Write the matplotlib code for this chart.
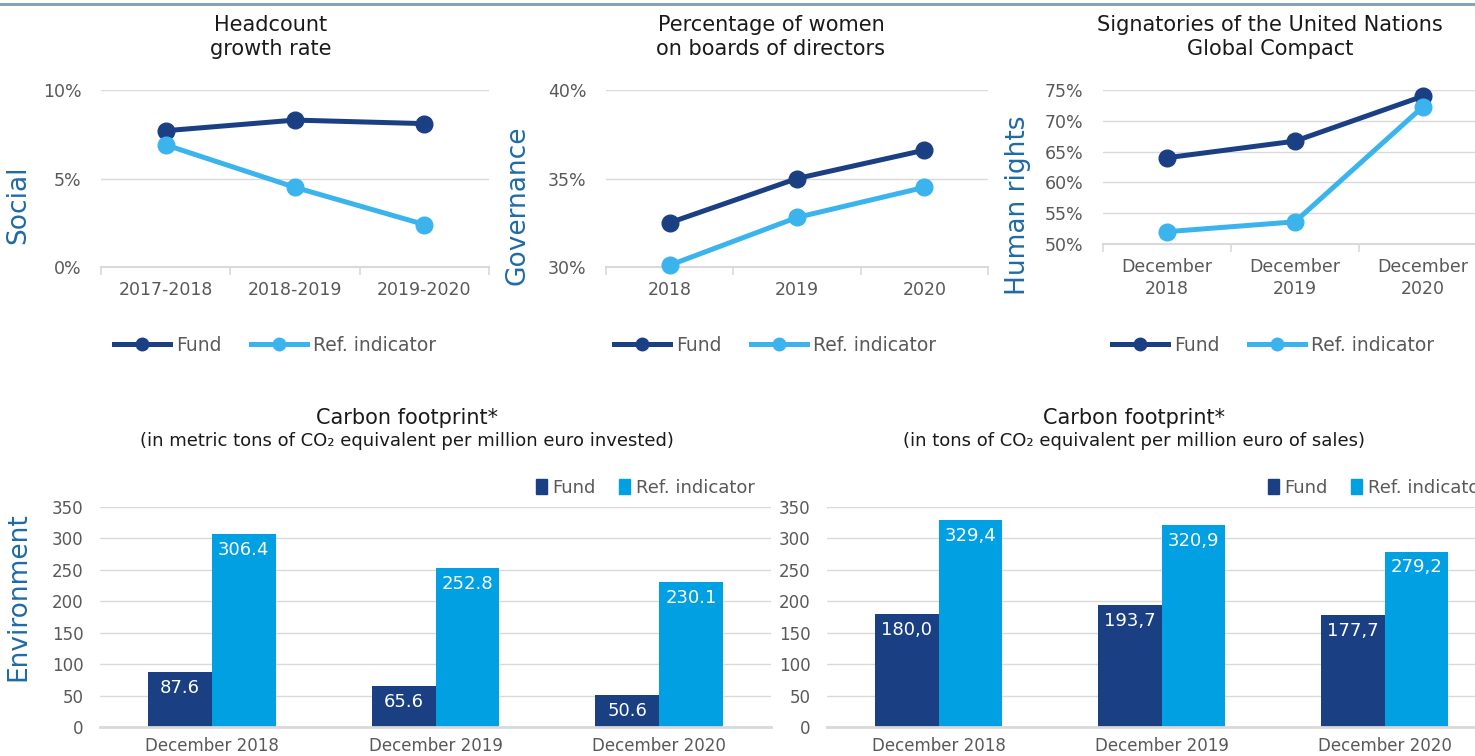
import matplotlib
matplotlib.use("Agg")
import matplotlib.pyplot as plt
from matplotlib.lines import Line2D
from matplotlib.patches import Patch

# data
headcount_cats = ['2017-2018', '2018-2019', '2019-2020']
headcount_fund = [7.7, 8.3, 8.1]
headcount_ref = [6.9, 4.5, 2.4]

women_cats = ['2018', '2019', '2020']
women_fund = [32.5, 35.0, 36.6]
women_ref = [30.1, 32.8, 34.5]

ungc_cats = ['December\n2018', 'December\n2019', 'December\n2020']
ungc_fund = [64.0, 66.7, 74.0]
ungc_ref = [52.0, 53.6, 72.3]

carbon_cats = ['December 2018', 'December 2019', 'December 2020']
carbon_inv_fund = [87.6, 65.6, 50.6]
carbon_inv_ref = [306.4, 252.8, 230.1]
carbon_sales_fund = [180.0, 193.7, 177.7]
carbon_sales_ref = [329.4, 320.9, 279.2]

W, H = 1475, 756
FUND = '#1b3f83'
REF_LINE = '#3bb4ee'
REF_BAR = '#00a0e2'
LABEL_BLUE = '#1f6aa6'
GRID = '#d9d9d9'
TICK = '#595959'

plt.rcParams['font.family'] = ['DejaVu Sans']

fig = plt.figure(figsize=(W / 100, H / 100), dpi=100)


def px_axes(x0, x1, ytop, ybot):
    return fig.add_axes([x0 / W, (H - ybot) / H, (x1 - x0) / W, (ybot - ytop) / H])


def fx(x):
    return x / W


def fy(y):
    return (H - y) / H


# top border line
fig.add_artist(Line2D([0, 1], [fy(4), fy(4)], color='#7f9bbf', lw=2))


def line_panel(x0, x1, ytop, ybot, cats, fund, ref, ylim, yticks, fmt,
               title, title_x, ylabel, ylabel_x, legend_x):
    ax = px_axes(x0, x1, ytop, ybot)
    xs = range(len(cats))
    ax.plot(xs, fund, color=FUND, lw=3.6, marker='o', ms=12, zorder=3, clip_on=False)
    ax.plot(xs, ref, color=REF_LINE, lw=3.6, marker='o', ms=12, zorder=3, clip_on=False)
    ax.set_xlim(-0.5, len(cats) - 0.5)
    ax.set_ylim(*ylim)
    ax.set_yticks(yticks)
    ax.set_yticklabels([fmt(v) for v in yticks])
    ax.set_xticks(list(xs))
    ax.set_xticklabels(cats, linespacing=1.3)
    ax.set_xticks([i - 0.5 for i in range(len(cats) + 1)], minor=True)
    ax.tick_params(axis='x', which='major', length=0, pad=10, labelsize=12.5, colors=TICK)
    ax.tick_params(axis='x', which='minor', length=6, color=GRID, width=1.2)
    ax.tick_params(axis='y', length=0, pad=14, labelsize=12.5, colors=TICK)
    for s in ['top', 'right', 'left']:
        ax.spines[s].set_visible(False)
    ax.spines['bottom'].set_color(GRID)
    ax.spines['bottom'].set_linewidth(1.5)
    ax.grid(axis='y', color=GRID, lw=1)
    ax.set_axisbelow(True)
    fig.text(fx(title_x), fy(37), title, ha='center', va='center',
             fontsize=15, linespacing=1.25, color='#1a1a1a')
    fig.text(fx(ylabel_x), fy(205), ylabel, ha='center', va='center',
             rotation=90, fontsize=19, color=LABEL_BLUE)
    handles = [Line2D([], [], color=FUND, lw=3.6, marker='o', ms=9),
               Line2D([], [], color=REF_LINE, lw=3.6, marker='o', ms=9)]
    fig.legend(handles, ['Fund', 'Ref. indicator'], loc='center',
               bbox_to_anchor=(fx(legend_x), fy(345)), ncol=2, frameon=False,
               handlelength=3.0, handletextpad=0.3, columnspacing=1.6,
               prop={'size': 13.5}, labelcolor=TICK)
    return ax


line_panel(101, 489, 90, 267, headcount_cats, headcount_fund, headcount_ref,
           (0, 10), [0, 5, 10], lambda v: f'{v:.0f}%',
           'Headcount\ngrowth rate', 271, 'Social', 18, 275)
line_panel(606, 988, 90, 267, women_cats, women_fund, women_ref,
           (30, 40), [30, 35, 40], lambda v: f'{v:.0f}%',
           'Percentage of women\non boards of directors', 771, 'Governance', 518, 775)
line_panel(1103, 1487, 90, 244, ungc_cats, ungc_fund, ungc_ref,
           (50, 75), [50, 55, 60, 65, 70, 75], lambda v: f'{v:.0f}%',
           'Signatories of the United Nations\nGlobal Compact', 1270, 'Human rights', 1018, 1273)


def bar_panel(x0, x1, fund, ref, fmt, title_x, subtitle, legend_x, ylabel=None):
    ax = px_axes(x0, x1, 507, 727)
    xs = list(range(len(carbon_cats)))
    w = 0.285
    b1 = ax.bar([x - w / 2 for x in xs], fund, width=w, color=FUND, edgecolor='none', zorder=2)
    b2 = ax.bar([x + w / 2 for x in xs], ref, width=w, color=REF_BAR, edgecolor='none', zorder=2)
    for bars, vals in ((b1, fund), (b2, ref)):
        for r, v in zip(bars, vals):
            ax.annotate(fmt(v), (r.get_x() + r.get_width() / 2, v), xytext=(0, -5),
                        textcoords='offset points', ha='center', va='top',
                        color='white', fontsize=13)
    ax.set_xlim(-0.5, len(xs) - 0.5)
    ax.set_ylim(0, 350)
    ax.set_yticks(range(0, 351, 50))
    ax.set_xticks(xs)
    ax.set_xticklabels(carbon_cats)
    ax.tick_params(axis='x', length=0, pad=7, labelsize=12, colors=TICK)
    ax.tick_params(axis='y', length=0, pad=12, labelsize=12, colors=TICK)
    for s in ['top', 'right', 'left']:
        ax.spines[s].set_visible(False)
    ax.spines['bottom'].set_color(GRID)
    ax.spines['bottom'].set_linewidth(2)
    ax.grid(axis='y', color=GRID, lw=1)
    ax.set_axisbelow(True)
    fig.text(fx(title_x), fy(418), 'Carbon footprint*', ha='center', va='center',
             fontsize=15, color='#1a1a1a')
    fig.text(fx(title_x), fy(441), subtitle, ha='center', va='center',
             fontsize=13, color='#1a1a1a')
    handles = [Patch(color=FUND), Patch(color=REF_BAR)]
    fig.legend(handles, ['Fund', 'Ref. indicator'], loc='center left',
               bbox_to_anchor=(fx(legend_x), fy(488)), ncol=2, frameon=False,
               handlelength=0.6, handleheight=0.9, handletextpad=0.3, columnspacing=1.3,
               prop={'size': 13}, labelcolor=TICK)
    if ylabel:
        fig.text(fx(18), fy(597), ylabel, ha='center', va='center', rotation=90,
                 fontsize=19, color=LABEL_BLUE)
    return ax


bar_panel(100, 771, carbon_inv_fund, carbon_inv_ref, lambda v: f'{v:.1f}', 407,
          '(in metric tons of CO₂ equivalent per million euro invested)', 520,
          ylabel='Environment')
bar_panel(827, 1496, carbon_sales_fund, carbon_sales_ref,
          lambda v: f'{v:.1f}'.replace('.', ','), 1134,
          '(in tons of CO₂ equivalent per million euro of sales)', 1252)

fig.savefig('out.png', dpi=100)
